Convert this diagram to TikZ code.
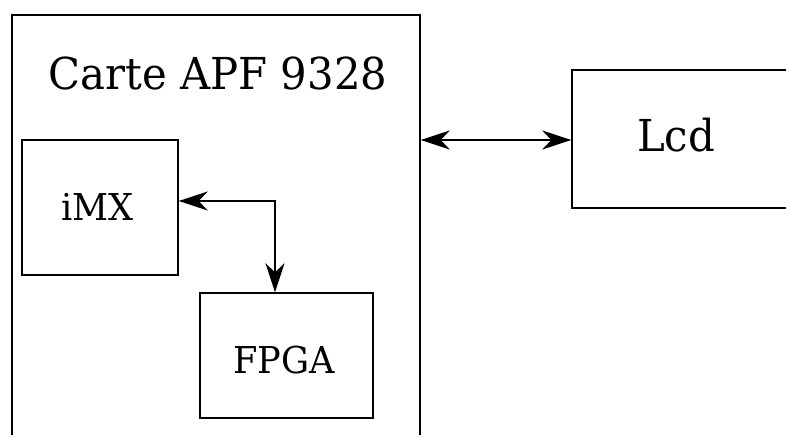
\documentclass[tikz,border=0pt]{standalone}
\usepackage{fontspec}
\setmainfont{DejaVu Serif}[FakeStretch=0.95]
\usetikzlibrary{arrows.meta}
\tikzset{
  box/.style={draw=black, line width=1.4pt, rectangle, inner sep=0pt},
  lbl/.style={anchor=base, inner sep=0pt},
  tip/.style={Stealth[length=29pt,width=19pt,inset=9pt]},
  link/.style={line width=1.7pt, {Stealth[length=29pt,width=19pt,inset=9pt]}-{Stealth[length=29pt,width=19pt,inset=9pt]}}
}
\begin{document}
\begin{tikzpicture}[x=1pt,y=-1pt]
\useasboundingbox (0,0) rectangle (786,435);
\node[box, minimum width=408pt, minimum height=460pt] (card) at (216,245) {};
\node[box, minimum width=240pt, minimum height=138pt] (lcd) at (692,139) {};
\node[box, minimum width=156pt, minimum height=135pt] (imx) at (100,207.5) {};
\node[box, minimum width=173pt, minimum height=125pt] (fpga) at (286.5,355.5) {};
\node[lbl, font=\fontsize{44}{44}\selectfont] (cardlbl) at (218,90) {Carte APF 9328};
\node[lbl, font=\fontsize{44}{44}\selectfont] (lcdlbl) at (676,152) {Lcd};
\node[lbl, font=\fontsize{37}{37}\selectfont] (imxlbl) at (97.5,221) {iMX};
\node[lbl, font=\fontsize{37}{37}\selectfont] (fpgalbl) at (284,373) {FPGA};
\draw[link] ([yshift=-1pt]lcd.west -| card.east) -- ([yshift=-1pt]lcd.west);
\draw[link] ([yshift=6.5pt]imx.east) -| ([xshift=-11.5pt]fpga.north);
\end{tikzpicture}
\end{document}
